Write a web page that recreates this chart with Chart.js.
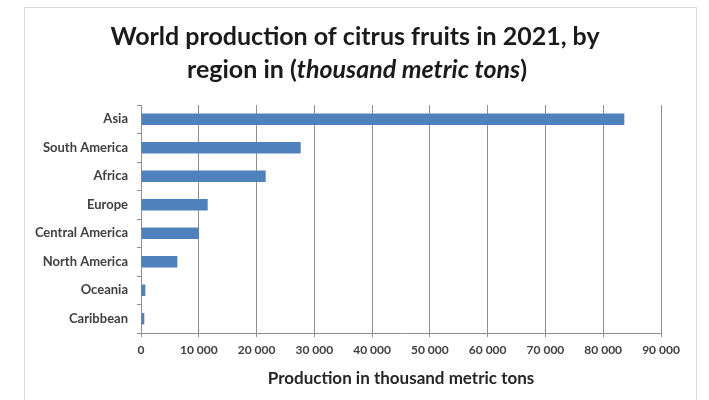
<!DOCTYPE html>
<html>
<head>
<meta charset="utf-8">
<script src="https://cdn.jsdelivr.net/npm/chart.js@4/dist/chart.umd.min.js"></script>
<style>
html,body{margin:0;padding:0;background:#fff;}
#wrap{position:relative;width:709px;height:400px;}
</style>
</head>
<body>
<div id="wrap"><canvas id="c" width="709" height="400"></canvas></div>
<script>
const categories = ["Asia","South America","Africa","Europe","Central America","North America","Oceania","Caribbean"];
const production = [83650, 27640, 21580, 11540, 10040, 6290, 750, 570];
const titleLine1 = "World production of citrus fruits in 2021, by";
const titleLine2 = [["region in (", false], ["thousand metric tons", true], [")", false]];
const xAxisTitle = "Production in thousand metric tons";
const xMax = 90000;
const xStep = 10000;

const FONT = "Lato, 'Open Sans', sans-serif";

const framePlugin = {
  id: 'frame',
  beforeDraw(chart) {
    const ctx = chart.ctx;
    ctx.save();
    ctx.fillStyle = '#ffffff';
    ctx.fillRect(0, 0, chart.width, chart.height);
    ctx.strokeStyle = '#d9d9d9';
    ctx.lineWidth = 1;
    ctx.strokeRect(24.5, 7.5, 672, 420);
    ctx.restore();
  },
  afterDraw(chart) {
    const ctx = chart.ctx;
    ctx.save();
    ctx.fillStyle = '#1a1a1a';
    ctx.textBaseline = 'middle';
    ctx.textAlign = 'left';
    const size = 25;
    const normal = 'bold ' + size + 'px ' + FONT;
    const ital = 'italic bold ' + size + 'px ' + FONT;
    const cx = 355;
    ctx.font = normal;
    let w1 = ctx.measureText(titleLine1).width;
    ctx.fillText(titleLine1, cx - w1 / 2, 37);
    let total = 0;
    titleLine2.forEach(([t, it]) => { ctx.font = it ? ital : normal; total += ctx.measureText(t).width; });
    let x = cx - total / 2 + 2;
    titleLine2.forEach(([t, it]) => { ctx.font = it ? ital : normal; ctx.fillText(t, x, 70); x += ctx.measureText(t).width; });
    ctx.restore();
  }
};

new Chart(document.getElementById('c'), {
  type: 'bar',
  data: {
    labels: categories,
    datasets: [{
      data: production,
      backgroundColor: '#4f81bd',
      borderWidth: 0,
      barPercentage: 0.4,
      categoryPercentage: 1.0
    }]
  },
  options: {
    indexAxis: 'y',
    responsive: false,
    animation: false,
    devicePixelRatio: 1,
    layout: { padding: { top: 105, left: 25, right: 48, bottom: 0 } },
    plugins: { legend: { display: false }, tooltip: { enabled: false }, title: { display: false } },
    scales: {
      x: {
        min: 0, max: xMax,
        afterFit(s) { s.height = 67; },
        ticks: {
          stepSize: xStep,
          color: '#404040',
          font: { family: FONT, size: 12, weight: 'bold' },
          padding: 6,
          maxRotation: 0,
          callback: v => String(v).replace(/\B(?=(\d{3})+(?!\d))/g, ' ')
        },
        grid: { color: '#8f8f8f', lineWidth: 1, tickLength: 4, tickColor: '#8f8f8f', drawOnChartArea: true },
        border: { color: '#8f8f8f', width: 1 },
        title: {
          display: true, text: xAxisTitle, color: '#262626',
          font: { family: FONT, size: 17, weight: 'bold' },
          padding: { top: 0, bottom: 11 }
        }
      },
      y: {
        afterFit(s) { s.width = 116; },
        offset: true,
        ticks: {
          color: '#404040',
          font: { family: FONT, size: 13, weight: 'bold' },
          padding: 9
        },
        grid: { offset: true, drawOnChartArea: false, tickLength: 4, tickColor: '#8f8f8f', color: '#8f8f8f' },
        border: { color: '#8f8f8f', width: 1 }
      }
    }
  },
  plugins: [framePlugin]
});
</script>
</body>
</html>
